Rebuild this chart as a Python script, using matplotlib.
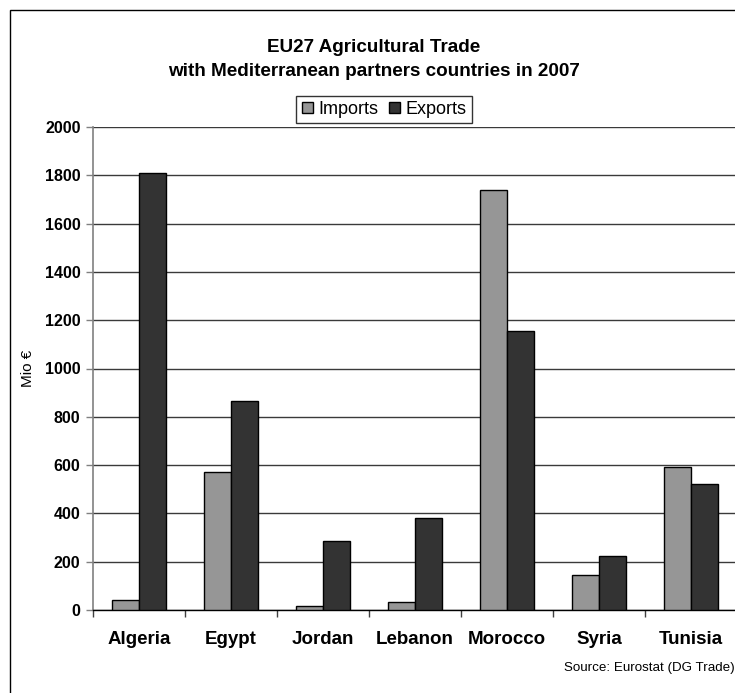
import matplotlib
matplotlib.use("Agg")
import matplotlib.pyplot as plt
from matplotlib.patches import Rectangle
import numpy as np

plt.rcParams['font.family'] = ['Liberation Sans', 'DejaVu Sans']

countries = ["Algeria", "Egypt", "Jordan", "Lebanon", "Morocco", "Syria", "Tunisia"]
imports = [40, 570, 15, 35, 1740, 145, 593]
exports = [1810, 867, 287, 382, 1155, 222, 523]
yticks = [0, 200, 400, 600, 800, 1000, 1200, 1400, 1600, 1800, 2000]

W, H = 735, 693
fig = plt.figure(figsize=(W / 100, H / 100), dpi=100)
fig.patch.set_facecolor("white")

# outer chart frame
fig.add_artist(Rectangle((10 / W, -0.05), 1.2, (H - 10) / H + 0.05,
                         transform=fig.transFigure, fill=False,
                         edgecolor="black", linewidth=1.0))

ax = fig.add_axes([93 / W, (H - 610) / H, (737 - 93) / W, (610 - 127) / H])
ax.set_facecolor("white")

x = np.arange(len(countries))
bw = 0.295
ax.bar(x - bw / 2, imports, bw, color="#969696", edgecolor="black",
       linewidth=1.0, label="Imports", zorder=3)
ax.bar(x + bw / 2, exports, bw, color="#333333", edgecolor="black",
       linewidth=1.0, label="Exports", zorder=3)

ax.set_xlim(-0.5, len(countries) - 0.5)
ax.set_ylim(0, 2000)
ax.set_yticks(yticks)
ax.set_yticklabels([str(v) for v in yticks], fontsize=11.5, fontweight="bold")
ax.yaxis.grid(True, color="#3a3a3a", linewidth=1.0, zorder=0)
ax.tick_params(axis="y", direction="out", length=5, width=1, color="#808080", pad=4)

ax.set_xticks(np.arange(-0.5, len(countries) - 0.4, 1.0))
ax.set_xticklabels([])
ax.set_xticks(x, minor=True)
ax.set_xticklabels(countries, minor=True, fontsize=13.5, fontweight="bold")
ax.tick_params(axis="x", which="major", direction="out", length=5, width=1, color="#404040")
ax.tick_params(axis="x", which="minor", length=0, pad=15)

for s in ["top", "right"]:
    ax.spines[s].set_visible(False)
ax.spines["left"].set_color("#808080")
ax.spines["left"].set_linewidth(1.2)
ax.spines["bottom"].set_color("black")
ax.spines["bottom"].set_linewidth(1.0)

ax.set_ylabel("Mio €", fontsize=11)
ax.yaxis.set_label_coords(-0.09, 0.5)

fig.text(374 / W, 1 - 48 / H, "EU27 Agricultural Trade", ha="center", va="center",
         fontsize=13.6, fontweight="bold")
fig.text(374 / W, 1 - 72 / H, "with Mediterranean partners countries in 2007",
         ha="center", va="center", fontsize=13.6, fontweight="bold")

handles = [Rectangle((0, 0), 1, 1, facecolor="#969696", edgecolor="black", linewidth=1.0),
           Rectangle((0, 0), 1, 1, facecolor="#333333", edgecolor="black", linewidth=1.0)]
leg = fig.legend(handles, ["Imports", "Exports"], loc="center",
                 bbox_to_anchor=(384 / W, 1 - 109.5 / H), ncol=2, frameon=True,
                 fancybox=False, edgecolor="black", fontsize=13,
                 handlelength=0.6, handleheight=0.6, handletextpad=0.3,
                 columnspacing=0.6, borderpad=0.3, borderaxespad=0)
leg.get_frame().set_linewidth(1.0)

fig.text(735 / W, 1 - 668 / H, "Source: Eurostat (DG Trade)", ha="right", va="center",
         fontsize=9.6)

fig.savefig("out.png", dpi=100, facecolor="white")
